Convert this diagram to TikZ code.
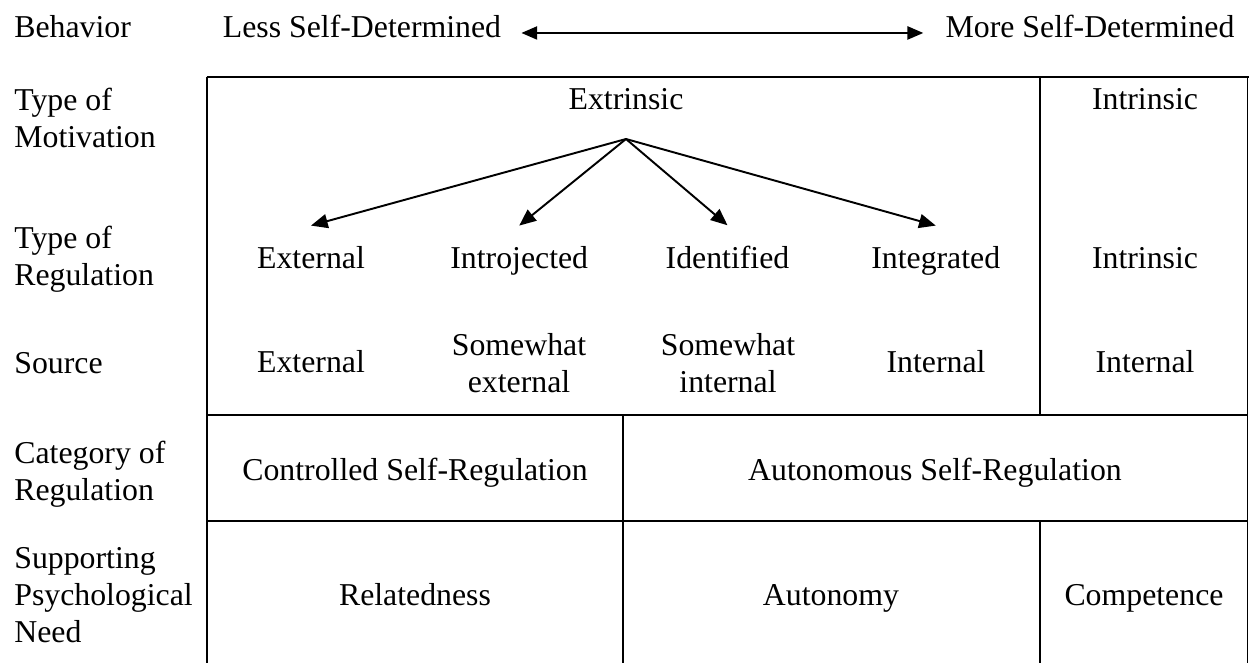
\documentclass[tikz,border=0pt]{standalone}
\usepackage{fontspec}
\setmainfont{Liberation Serif}
\usepackage{tikz}
\usetikzlibrary{arrows.meta}

\begin{document}
\begin{tikzpicture}[x=0.02cm,y=-0.02cm,
  font=\fontsize{18.1}{21}\selectfont,
  txt/.style={inner sep=0pt,anchor=base,align=center},
  lbl/.style={inner sep=0pt,anchor=base west,align=left},
  regtxt/.style={txt,inner ysep=0.4cm},
  rule/.style={line width=0.85pt},
  fan/.style={-{Triangle[length=9.5pt,width=8pt]},line width=1.1pt},
  span/.style={{Triangle[length=9pt,width=7.5pt]}-{Triangle[length=9pt,width=7.5pt]},line width=1pt}]

\useasboundingbox (0,0) rectangle (1249,663);

% --- row labels (base = last line) ---
\node[lbl] (behav) at (14,37) {Behavior};
\node[lbl] (motiv) at (14,147) {Type of\\Motivation};
\node[lbl] (regul) at (14,285) {Type of\\Regulation};
\node[lbl] (srce) at (14,373) {Source};
\node[lbl] (categ) at (14,500) {Category of\\Regulation};
\node[lbl] (need) at (14,642) {Supporting\\Psychological\\Need};

% --- behavior scale ---
\node[txt,inner xsep=0.4cm] (less) at (362,37) {Less Self-Determined};
\node[txt,inner xsep=0.44cm] (more) at (1090,37) {More Self-Determined};
\draw[span] (less.mid east) -- (more.mid west);

% --- table frame ---
\draw[line width=1.7pt] (206.5,77) -- (1248.5,77);
\draw[rule] (207,77) -- (207,663);
\draw[rule] (1247.5,77) -- (1247.5,663);
\draw[rule] (1040,77) -- (1040,415);
\draw[rule] (1040,521) -- (1040,663);
\draw[rule] (623,415) -- (623,663);
\draw[rule] (207,415) -- (1247.5,415);
\draw[rule] (207,521) -- (1247.5,521);

% --- motivation ---
\node[txt] (extr) at (626,109) {Extrinsic};
\node[txt] (intr) at (1145,109) {Intrinsic};
\coordinate (fork) at (626,139);

% --- regulation and source ---
\foreach \t [count=\i] in {External,Introjected,Identified,Integrated} {
  \node[regtxt] (reg\i) at ({311+208.25*(\i-1)},268) {\t};
  \draw[fan] (fork) -- (reg\i.north);
}
\node[txt] (regin) at (1145,268) {Intrinsic};

\node[txt] (src1) at (311,372) {External};
\node[txt] (src2) at (519,392) {Somewhat\\external};
\node[txt] (src3) at (728,392) {Somewhat\\internal};
\node[txt] (src4) at (936,372) {Internal};
\node[txt] (src5) at (1145,372) {Internal};

% --- category ---
\node[txt] (ctrl) at (415,480) {Controlled Self-Regulation};
\node[txt] (auto) at (935,480) {Autonomous Self-Regulation};

% --- needs ---
\node[txt] (rel) at (415,605) {Relatedness};
\node[txt] (aut) at (831,605) {Autonomy};
\node[txt] (comp) at (1144,605) {Competence};

\end{tikzpicture}
\end{document}
